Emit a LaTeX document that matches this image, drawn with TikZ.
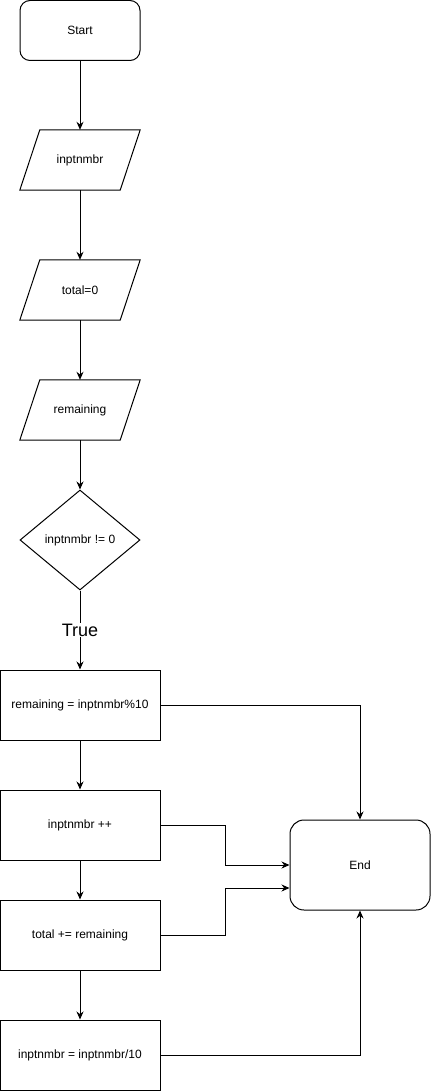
\documentclass[tikz,border=0pt]{standalone}
\usepackage{fontspec}
\setmainfont{Liberation Sans}
\usetikzlibrary{shapes.geometric,arrows.meta,calc}
\begin{document}
\begin{tikzpicture}[x=1pt,y=-1pt,
  every node/.style={font=\fontsize{12}{14}\selectfont},
  line/.style={draw=black,line width=1pt},
  arr/.style={line,-{Stealth[length=8pt,width=7pt]}},
  term/.style={line,rectangle,rounded corners=10pt,minimum width=120pt,minimum height=60pt,inner sep=0pt},
  iobox/.style={rectangle,minimum width=100pt,minimum height=60pt,inner sep=0pt},
  proc/.style={line,rectangle,minimum width=160pt,minimum height=70pt,inner sep=0pt},
  dec/.style={line,diamond,minimum width=120pt,minimum height=100pt,inner sep=0pt}]
\useasboundingbox (0,0) rectangle (431,1091);
\node[term] (start) at (80,30.5) {Start};
\node[iobox] (in1) at (80,160) {inptnmbr};
\node[iobox] (in2) at (80,290) {total=0};
\node[iobox] (in3) at (80,410) {remaining};
\foreach \n in {in1,in2,in3}{
  \draw[line] ($(\n.south west)+(-10,0)$) -- ($(\n.south east)+(-10,0)$) -- ($(\n.north east)+(10,0)$) -- ($(\n.north west)+(10,0)$) -- cycle;
}
\node[dec] (cond) at (80,540) {inptnmbr != 0};
\node[proc] (b1) at (80,705) {remaining = inptnmbr\%10};
\node[proc] (b2) at (80,825) {inptnmbr ++};
\node[proc] (b3) at (80,935) {total += remaining};
\node[proc] (b4) at (80,1055) {inptnmbr = inptnmbr/10};
\node[term,minimum width=140pt,minimum height=90pt,rounded corners=14pt] (end) at (360,865) {End};
\draw[arr] (start.south) -- (in1.north);
\draw[arr] (in1.south) -- (in2.north);
\draw[arr] (in2.south) -- (in3.north);
\draw[arr] (in3.south) -- (cond.north);
\draw[arr] (cond.south) -- node[fill=white,inner sep=1pt,font=\fontsize{18}{20}\selectfont] (truelbl) {True} (b1.north);
\draw[arr] (b1.south) -- (b2.north);
\draw[arr] (b2.south) -- (b3.north);
\draw[arr] (b3.south) -- (b4.north);
\draw[arr] (b1.east) -| (end.north);
\draw[arr] (b2.east) -- (225,825) |- (end.west);
\draw[arr] (b3.east) -- (225,935) |- ($(end.west)+(0,23)$);
\draw[arr] (b4.east) -| (end.south);
\end{tikzpicture}
\end{document}
